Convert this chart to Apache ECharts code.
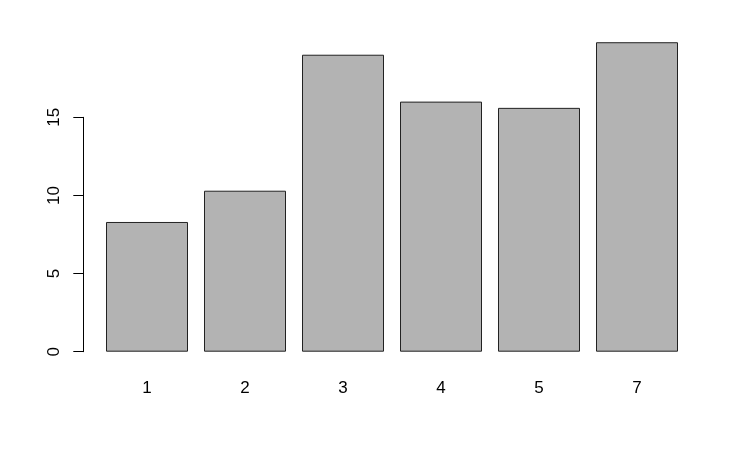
<!DOCTYPE html>
<html>
<head>
<meta charset="utf-8">
<script src="https://cdn.jsdelivr.net/npm/echarts@6/dist/echarts.min.js"></script>
<style>
html,body{margin:0;padding:0;background:#fff;}
#c{width:743px;height:459px;}
</style>
</head>
<body>
<div id="c"></div>
<script>
const categories = ['1', '2', '3', '4', '5', '7'];
const values = [8.3, 10.3, 19.0, 16.0, 15.6, 19.8];
const yTickValues = [0, 5, 10, 15];

const FONT = 'Liberation Sans, Arial, Helvetica, sans-serif';
const chart = echarts.init(document.getElementById('c'), null, {renderer: 'canvas'});
chart.setOption({
  animation: false,
  backgroundColor: '#ffffff',
  grid: [
    {left: 98, right: 57, top: 39.1, bottom: 107.3, containLabel: false},
    {left: 83.3, right: 57, top: 117.3, bottom: 107.3, containLabel: false}
  ],
  xAxis: [
    {
      type: 'category', gridIndex: 0, data: categories,
      axisLine: {show: false}, axisTick: {show: false},
      axisLabel: {color: '#000', fontFamily: FONT, fontSize: 17, margin: 28}
    },
    {type: 'value', gridIndex: 1, show: false, min: 0, max: 1}
  ],
  yAxis: [
    {type: 'value', gridIndex: 0, min: 0, max: 20, show: false, splitLine: {show: false}},
    {
      type: 'value', gridIndex: 1,
      min: yTickValues[0], max: yTickValues[yTickValues.length - 1], interval: yTickValues[1] - yTickValues[0],
      axisLine: {show: true, lineStyle: {color: '#000', width: 1}},
      axisTick: {show: true, inside: false, length: 10, lineStyle: {color: '#000', width: 1}},
      splitLine: {show: false},
      axisLabel: {color: '#000', fontFamily: FONT, fontSize: 17, rotate: 90, margin: 20}
    }
  ],
  series: [{
    type: 'bar', xAxisIndex: 0, yAxisIndex: 0,
    data: values,
    barWidth: 82,
    itemStyle: {color: '#b3b3b3', borderColor: '#222', borderWidth: 1}
  }]
});
</script>
</body>
</html>
